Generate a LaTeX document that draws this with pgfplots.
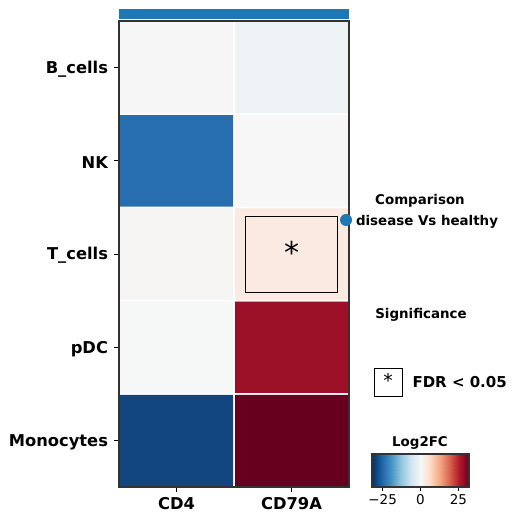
\documentclass[border=0pt]{standalone}
\usepackage{fontspec}
\setmainfont{DejaVu Sans}
\usepackage{pgfplots}
\pgfplotsset{compat=1.18}
\definecolor{mplblue}{HTML}{1F77B4}
\definecolor{frame}{HTML}{333333}
\pgfplotsset{colormap={rdbur}{rgb255=(5,48,97) rgb255=(33,102,172) rgb255=(67,147,195) rgb255=(146,197,222) rgb255=(209,229,240) rgb255=(247,247,247) rgb255=(253,219,199) rgb255=(244,165,130) rgb255=(214,96,77) rgb255=(178,24,43) rgb255=(103,0,31)}}
\pgfplotstableread{
x y c
0 0 -29.5
1 0 32
0 1 -0.1
1 1 27.5
0 2 0.4
1 2 3.0
0 3 -24.5
1 3 0.0
0 4 0.2
1 4 -1.5
}\heat
\pgfplotstableread{
x y
-32 0
-25.6 0
-19.2 0
-12.8 0
-6.4 0
0 0
6.4 0
12.8 0
19.2 0
25.6 0
32 0
-32 1
-25.6 1
-19.2 1
-12.8 1
-6.4 1
0 1
6.4 1
12.8 1
19.2 1
25.6 1
32 1
}\cbar
\begin{document}
\begin{tikzpicture}[x=1pt,y=1pt]
\path[use as bounding box] (0,0) rectangle (516,522);
\begin{axis}[
  at={(119pt,35pt)}, anchor=south west,
  scale only axis, width=230pt, height=466pt,
  xmin=-0.5, xmax=1.5, ymin=-0.5, ymax=4.5,
  colormap name=rdbur, point meta min=-32, point meta max=32,
  xtick={0,1}, xticklabels={CD4,CD79A},
  ytick={0,1,2,3,4}, yticklabels={Monocytes,pDC,T\_cells,NK,B\_cells},
  tick label style={font=\fontsize{16.3}{19}\selectfont\bfseries},
  xticklabel style={yshift=-2pt},
  yticklabel style={xshift=-2.5pt, yshift=-1.5pt},
  tick align=outside, tick pos=left,
  major tick length=5pt,
  tick style={black, line width=0.8pt},
  axis line style={frame, line width=1.6pt},
  axis on top,
]
\addplot[matrix plot*, point meta=explicit, mesh/cols=2, draw=white, line width=1.5pt] table[meta=c] {\heat};
\draw[black, line width=0.8pt] (axis cs:0.6,1.59) rectangle (axis cs:1.4,2.40);
\node[font=\fontsize{30}{30}\selectfont] at (axis cs:1,2.02) {*};
\end{axis}
\begin{axis}[
  at={(372pt,35pt)}, anchor=south west,
  scale only axis, width=97pt, height=33pt,
  xmin=-32, xmax=32, ymin=0, ymax=1,
  colormap name=rdbur, point meta min=-32, point meta max=32,
  xtick={-25,0,25}, xticklabels={−25,0,25},
  xticklabel style={font=\fontsize{13.5}{15}\selectfont},
  ytick=\empty,
  tick align=outside, xtick pos=bottom,
  major tick length=4pt,
  tick style={black, line width=0.8pt},
  axis line style={frame, line width=1.4pt},
  axis on top,
]
\addplot[surf, shader=interp, mesh/cols=11, point meta=x] table {\cbar};
\end{axis}
\fill[mplblue] (119,503) rectangle (349,513);
\fill[mplblue] (346,302) circle (6);
\node[font=\fontsize{13.4}{16}\selectfont\bfseries] at (420,321) {Comparison};
\node[font=\fontsize{13.4}{16}\selectfont\bfseries] at (427,300) {disease Vs healthy};
\node[font=\fontsize{13.4}{16}\selectfont\bfseries] at (421,207) {Significance};
\draw[black, line width=0.8pt] (374,126) rectangle (402,154);
\node[font=\fontsize{19}{19}\selectfont] at (388,142) {*};
\node[font=\fontsize{15}{17}\selectfont\bfseries, anchor=west] at (409,140) {FDR < 0.05};
\node[font=\fontsize{13.4}{16}\selectfont\bfseries] at (420,79) {Log2FC};
\end{tikzpicture}
\end{document}
